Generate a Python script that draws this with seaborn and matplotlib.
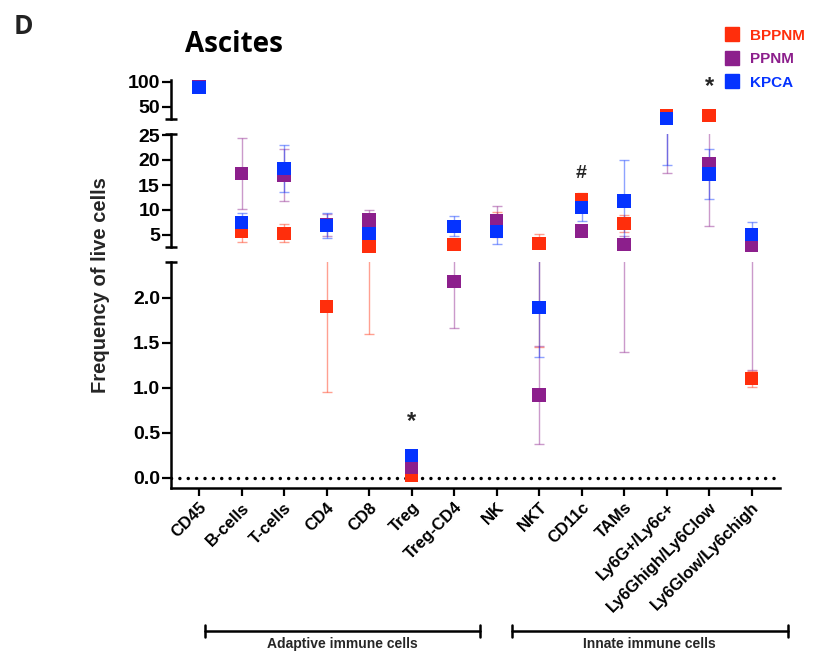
import numpy as np
import pandas as pd
import matplotlib
matplotlib.use("Agg")
import matplotlib.pyplot as plt
import matplotlib.transforms as mtransforms
from matplotlib.lines import Line2D
from matplotlib.ticker import FormatStrFormatter
import seaborn as sns

# ---------------- data ----------------
categories = ["CD45", "B-cells", "T-cells", "CD4", "CD8", "Treg", "Treg-CD4", "NK",
              "NKT", "CD11c", "TAMs", "Ly6G+/Ly6c+", "Ly6Ghigh/Ly6Clow", "Ly6Glow/Ly6chigh"]

bppnm_mean = [88.0, 5.7, 5.3, 1.9, 2.7, 0.03, 3.1, 7.0, 3.3, 12.1, 7.3, 32.4, 32.4, 1.1]
bppnm_sd = [1.0, 2.2, 1.8, 0.95, 1.1, 0.01, 0.4, 2.5, 1.85, 1.4, 1.7, 2.0, 1.5, 0.09]

ppnm_mean = [90.5, 17.3, 17.0, 7.0, 8.0, 0.11, 2.18, 7.8, 0.92, 5.8, 3.1, 27.0, 19.3, 3.0]
ppnm_sd = [1.0, 7.2, 5.3, 2.2, 1.9, 0.02, 0.52, 2.9, 0.54, 0.4, 1.7, 9.5, 12.5, 1.8]

kpca_mean = [89.0, 7.5, 18.3, 6.9, 5.3, 0.25, 6.7, 5.7, 1.89, 10.5, 11.8, 26.0, 17.2, 5.1]
kpca_sd = [1.0, 1.8, 4.7, 2.5, 1.5, 0.02, 2.0, 2.5, 0.55, 2.7, 8.2, 7.0, 5.0, 2.4]

series_names = ["BPPNM", "PPNM", "KPCA"]
series_colors = ["#FF2E0C", "#8C1F8C", "#0533FF"]

group_labels = ["Adaptive immune cells", "Innate immune cells"]

# ---------------- long table ----------------
rows = []
for name, means, sds in zip(series_names, [bppnm_mean, ppnm_mean, kpca_mean],
                            [bppnm_sd, ppnm_sd, kpca_sd]):
    for i, (m, s) in enumerate(zip(means, sds)):
        rows.append({"x": i, "category": categories[i], "value": m, "sd": s, "series": name})
df = pd.DataFrame(rows)


def segment(v):
    if v >= 24.8:
        return "top"
    if v >= 2.4:
        return "mid"
    return "bot"


df["segment"] = df["value"].apply(segment)
palette = dict(zip(series_names, series_colors))

# ---------------- figure ----------------
sns.set_theme(style="ticks")
plt.rcParams["font.family"] = ["Liberation Sans", "DejaVu Sans"]
plt.rcParams["font.weight"] = "bold"
plt.rcParams["axes.labelweight"] = "bold"

W, H = 813, 654
fig = plt.figure(figsize=(W / 100, H / 100), dpi=100)
L, R = 171 / W, 780 / W


def fy(px):
    return 1 - px / H


ax_top = fig.add_axes([L, fy(119.3), R - L, fy(80) - fy(119.3)])
ax_mid = fig.add_axes([L, fy(246.7), R - L, fy(134) - fy(246.7)])
ax_bot = fig.add_axes([L, fy(488), R - L, fy(261.7) - fy(488)])

axes = {"top": ax_top, "mid": ax_mid, "bot": ax_bot}
ylims = {"top": (24.8, 103.4), "mid": (2.66, 25.2), "bot": (-0.114, 2.4)}
yticks = {"top": [50, 100], "mid": [5, 10, 15, 20, 25], "bot": [0.0, 0.5, 1.0, 1.5, 2.0]}
xlim = (-0.66, 13.67)

for seg, ax in axes.items():
    lo, hi = ylims[seg]
    margin = 0.01 * (hi - lo)
    # error bars (clipped to each segment), only where they reach into it
    for name, col in zip(series_names, series_colors):
        sub = df[df["series"] == name]
        sub = sub[(sub["value"] + sub["sd"] > lo + margin) & (sub["value"] - sub["sd"] < hi - margin)]
        if len(sub):
            ax.errorbar(sub["x"], sub["value"], yerr=sub["sd"], fmt="none",
                        ecolor=col, alpha=0.45, elinewidth=1.0, capsize=3.6,
                        capthick=1.0, zorder=2)
    # markers in their own segment
    part = df[df["segment"] == seg]
    if len(part):
        sns.scatterplot(data=part, x="x", y="value", hue="series", palette=palette,
                        hue_order=series_names, marker="s", s=90, linewidth=0,
                        legend=False, ax=ax, clip_on=False, zorder=3)
    ax.set_xlim(*xlim)
    ax.set_ylim(lo, hi)
    ax.set_yticks(yticks[seg])
    ax.set_xlabel("")
    ax.set_ylabel("")
    for sp in ["top", "right"]:
        ax.spines[sp].set_visible(False)
    for sp in ["left", "bottom"]:
        ax.spines[sp].set_linewidth(1.8)
        ax.spines[sp].set_color("black")
    ax.tick_params(axis="y", direction="out", length=6.5, width=1.6, colors="black",
                   labelsize=14, pad=1.5)
    for lab in ax.get_yticklabels():
        lab.set_fontweight("bold")
    ax.patch.set_alpha(0)

for ax in (ax_top, ax_mid):
    ax.spines["bottom"].set_visible(False)
    ax.tick_params(axis="x", bottom=False, labelbottom=False)

ax_bot.yaxis.set_major_formatter(FormatStrFormatter("%.1f"))
ax_bot.set_xticks(range(len(categories)))
ax_bot.set_xticklabels(categories, rotation=45, ha="right", rotation_mode="anchor",
                       fontsize=12, fontweight="bold")
ax_bot.tick_params(axis="x", direction="out", length=5.5, width=1.6, colors="black", pad=3)

# dotted zero line
ax_bot.axhline(0, xmin=0.0, xmax=0.993, color="black", lw=2.5,
               linestyle=(0, (0.01, 2.4)), dash_capstyle="round", zorder=1)

# break nubs
for ax, yy in [(ax_top, 0), (ax_mid, 1), (ax_mid, 0), (ax_bot, 1)]:
    ax.plot([-0.01, 0.01], [yy, yy], transform=ax.transAxes, color="black",
            lw=1.8, clip_on=False, solid_capstyle="butt")

# significance marks
ax_bot.text(5, 0.62, "*", ha="center", va="center", fontsize=17, fontweight="bold")
ax_mid.text(9, 17.2, "#", ha="center", va="center", fontsize=14, fontweight="bold")
ax_top.text(12, 91, "*", ha="center", va="center", fontsize=17, fontweight="bold")

# legend
handles = [Line2D([], [], marker="s", ls="", color=c, markersize=9.5) for c in series_colors]
leg = fig.legend(handles, series_names, loc="upper left",
                 bbox_to_anchor=(717 / W, fy(22.5)), frameon=False,
                 prop={"weight": "bold", "size": 11}, handletextpad=0.55,
                 labelspacing=0.62, handlelength=1.2, borderaxespad=0)
for t, c in zip(leg.get_texts(), series_colors):
    t.set_color(c)

# titles and labels
fig.text(14 / W, fy(27), "D", fontsize=19, fontweight="bold", va="center", ha="left",
         family=["Open Sans", "DejaVu Sans"], color="#222222")
fig.text(185 / W, fy(44), "Ascites", fontsize=20, fontweight="bold", va="center",
         ha="left", family=["Open Sans", "DejaVu Sans"], color="black")
fig.text(100 / W, fy(285), "Frequency of live cells", rotation=90, fontsize=14.5,
         fontweight="bold", va="center", ha="center")

# group brackets
trans = mtransforms.blended_transform_factory(ax_bot.transData, fig.transFigure)
brackets = [(0.14, 6.6), (7.36, 13.85)]
for (x0, x1), lab in zip(brackets, group_labels):
    fig.add_artist(Line2D([x0, x1], [fy(631), fy(631)], transform=trans, color="black", lw=1.8))
    for xe in (x0, x1):
        fig.add_artist(Line2D([xe, xe], [fy(625), fy(637)], transform=trans, color="black", lw=1.8))
    fig.text((x0 + x1) / 2, fy(644), lab, transform=trans, ha="center", va="center",
             fontsize=10, fontweight="bold")

fig.savefig("out.png", dpi=100)
